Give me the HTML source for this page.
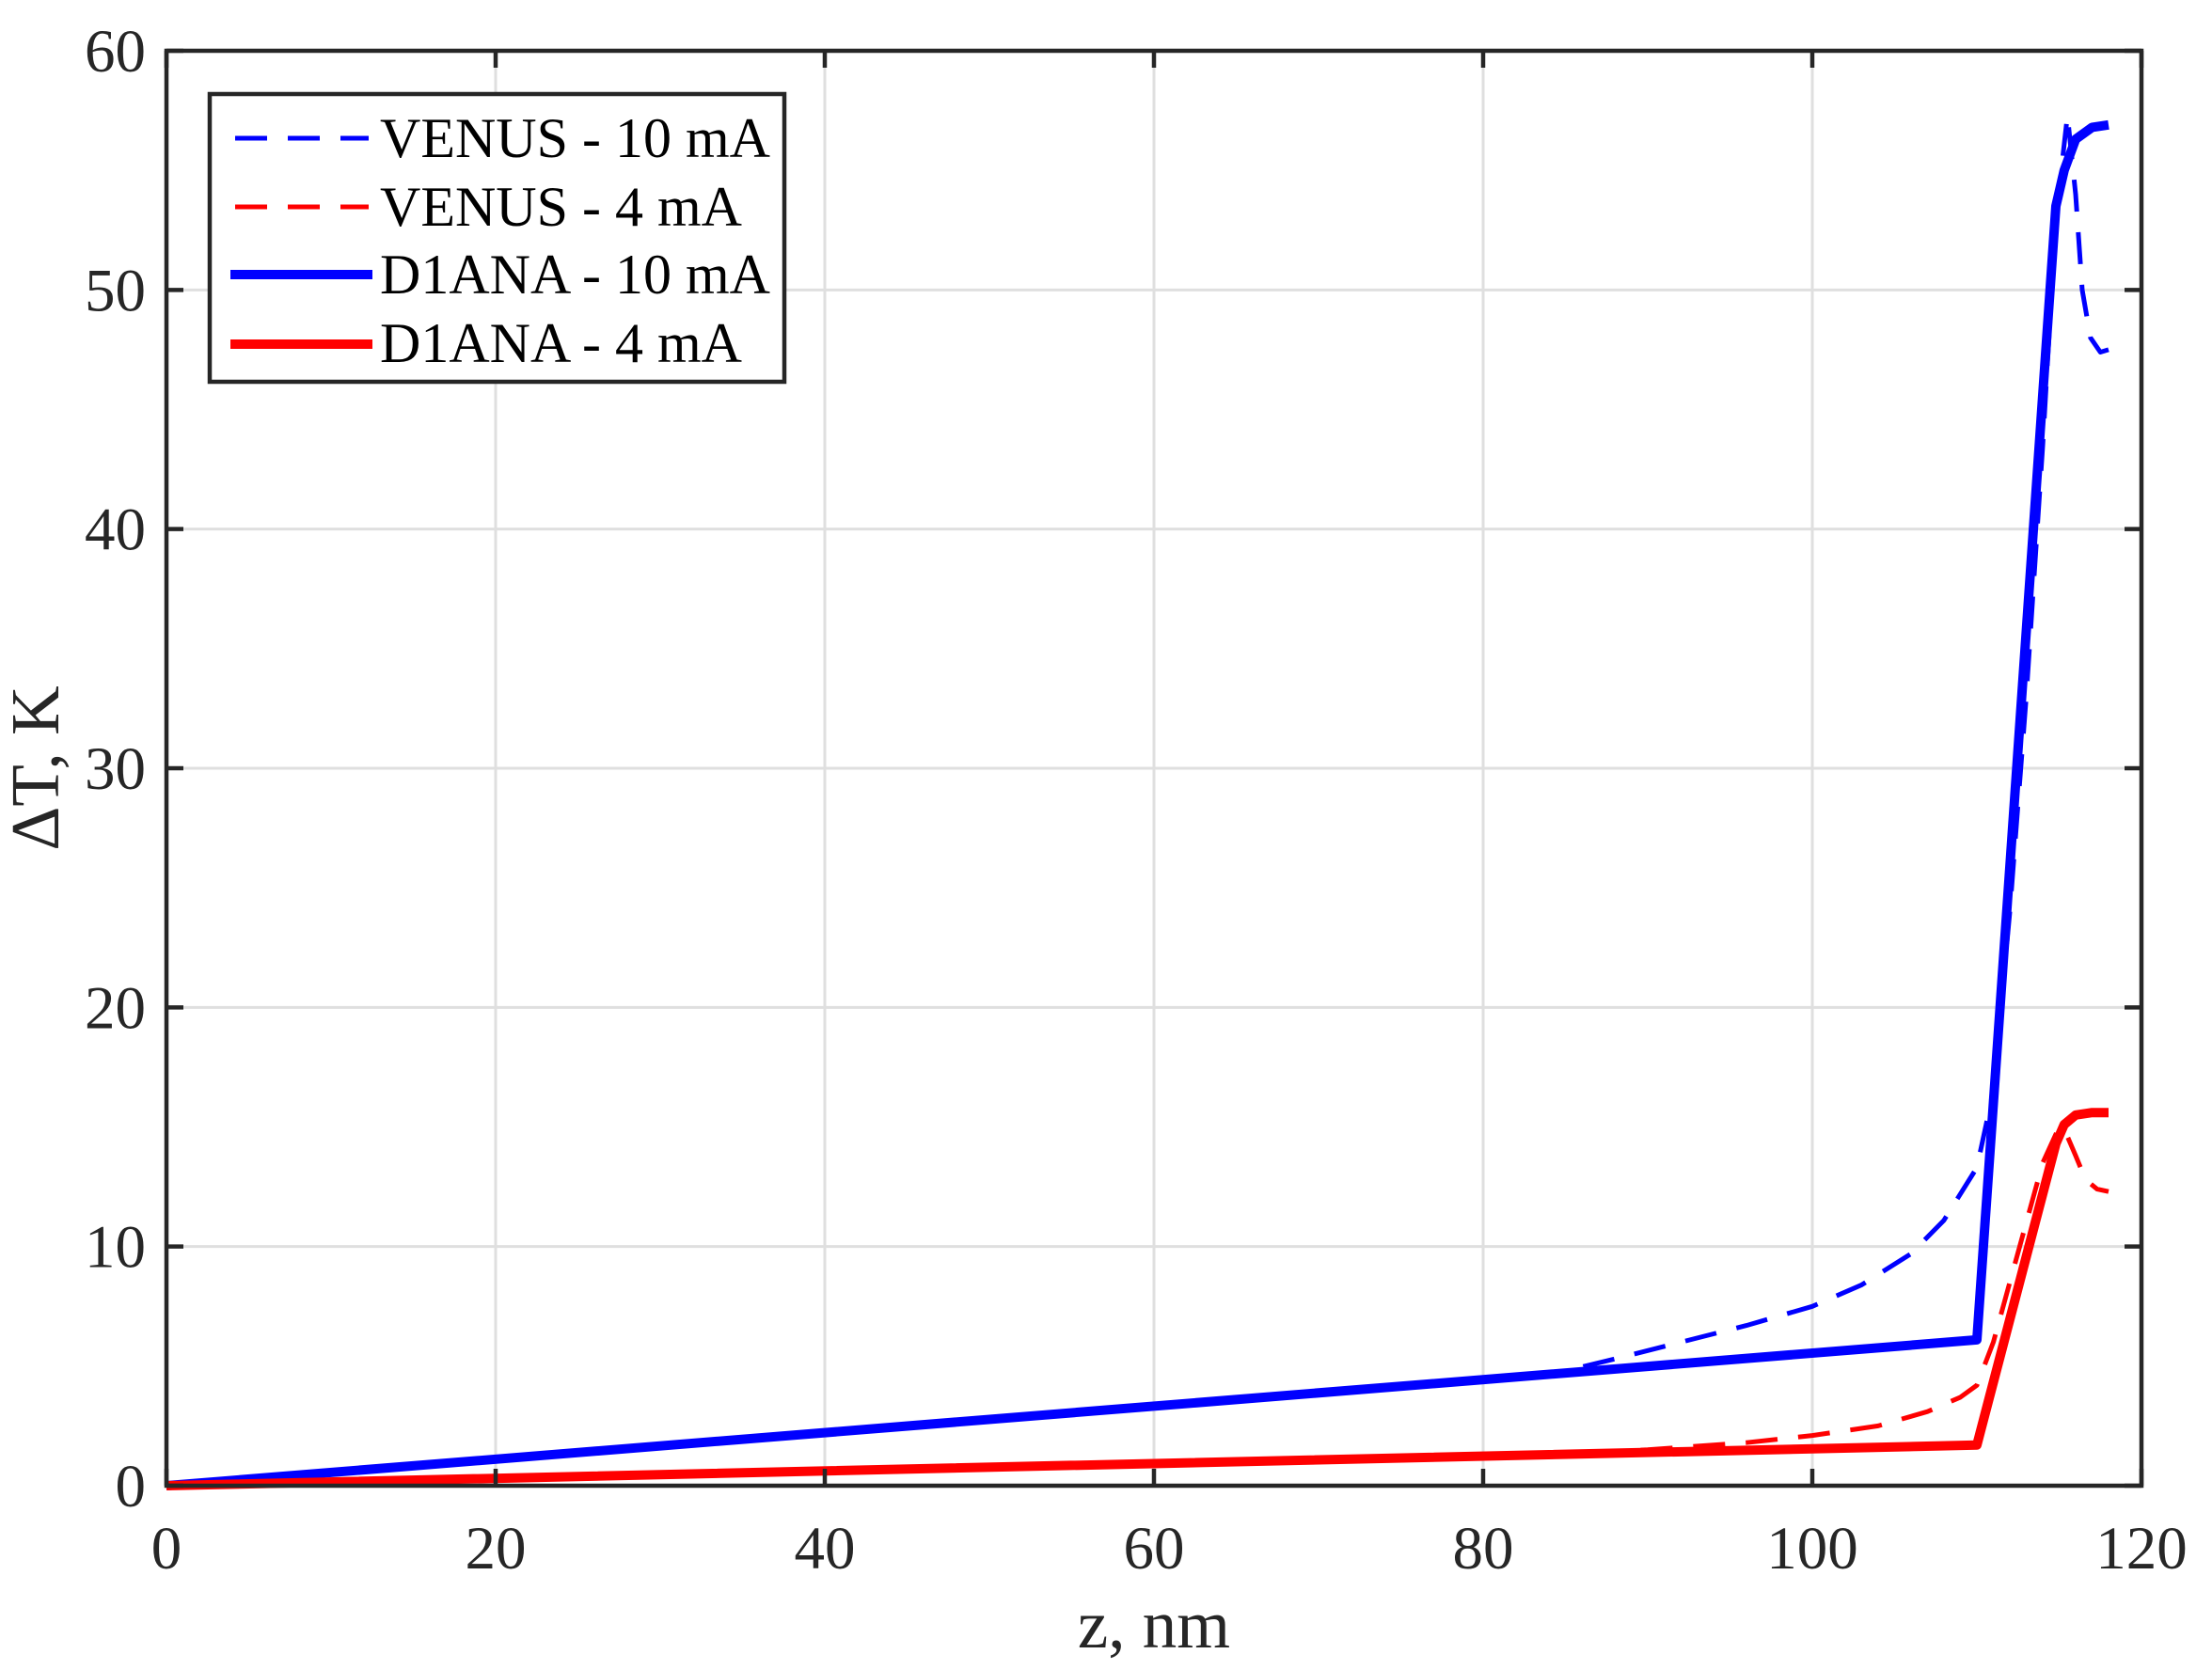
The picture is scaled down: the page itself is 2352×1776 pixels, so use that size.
<!DOCTYPE html>
<html><head><meta charset="utf-8"><style>
html,body{margin:0;padding:0;background:#fff;}
svg{display:block;font-family:"Liberation Serif",serif;}
</style></head><body>
<svg id="s" width="2352" height="1776" viewBox="0 0 2352 1776" xmlns="http://www.w3.org/2000/svg">
<rect width="2352" height="1776" fill="#fff"/>
<g id="grid" stroke="#dfdfdf" stroke-width="3"></g>
<g id="data" fill="none" stroke-linejoin="round"></g>
<g id="ticks" stroke="#262626" stroke-width="4.5"></g>
<rect x="177" y="54" width="2100" height="1526" fill="none" stroke="#262626" stroke-width="4.5"/>
<g id="labels" fill="#262626" font-size="65"></g>
<text x="1227" y="1752" text-anchor="middle" font-size="73" fill="#262626">z, nm</text>
<text transform="translate(62,817) rotate(-90)" text-anchor="middle" font-size="73" fill="#262626">ΔT, K</text>
<g>
<rect x="223" y="100" width="611" height="306" fill="#fff" stroke="#262626" stroke-width="4.5"/>
<line x1="250" y1="147" x2="392" y2="147" stroke="#00f" stroke-width="5" stroke-dasharray="34,22"/>
<line x1="250" y1="220" x2="392" y2="220" stroke="#f00" stroke-width="5" stroke-dasharray="34,22"/>
<line x1="245" y1="292" x2="396" y2="292" stroke="#00f" stroke-width="10"/>
<line x1="245" y1="366" x2="396" y2="366" stroke="#f00" stroke-width="10"/>
<g font-size="60" fill="#000">
<text x="404" y="167">VENUS - 10 mA</text>
<text x="404" y="240">VENUS - 4 mA</text>
<text x="404" y="312">D1ANA - 10 mA</text>
<text x="404" y="385">D1ANA - 4 mA</text>
</g>
</g>
</svg>
<script>
var L=177,R=2277,T=54,B=1580;
function X(v){return L+v*(R-L)/120;}
function Y(v){return B-v*(B-T)/60;}
var ns="http://www.w3.org/2000/svg";
function el(p,n,a,t){var e=document.createElementNS(ns,n);for(var k in a)e.setAttribute(k,a[k]);if(t!==undefined)e.textContent=t;document.getElementById(p).appendChild(e);}
for(var i=1;i<6;i++){el("grid","line",{x1:X(i*20),y1:T,x2:X(i*20),y2:B});}
for(var i=1;i<6;i++){el("grid","line",{x1:L,y1:Y(i*10),x2:R,y2:Y(i*10)});}
for(var i=0;i<=6;i++){var x=X(i*20);el("ticks","line",{x1:x,y1:B,x2:x,y2:B-18});el("ticks","line",{x1:x,y1:T,x2:x,y2:T+18});
el("labels","text",{x:x,y:1668,"text-anchor":"middle"},String(i*20));}
for(var i=0;i<=6;i++){var y=Y(i*10);el("ticks","line",{x1:L,y1:y,x2:L+18,y2:y});el("ticks","line",{x1:R,y1:y,x2:R-18,y2:y});
el("labels","text",{x:155,y:y+22,"text-anchor":"end"},String(i*10));}
function path(pts,c,w,d){var s="M"+pts.map(function(p){return X(p[0]).toFixed(1)+","+Y(p[1]).toFixed(1);}).join(" L");
var a={d:s,stroke:c,"stroke-width":w};if(d)a["stroke-dasharray"]=d;el("data","path",a);}
path([[0,0],[20,1.1],[40,2.2],[60,3.3],[80,4.4],[85,4.8],[88,5.3],[92,6],[96,6.7],[100,7.5],[103,8.4],[106,9.7],[108,11.1],[110,13.3],[111,16.5],[112,24],[113,33],[114,43.5],[114.8,53],[115.5,57.3],[116,54],[116.4,50],[116.9,48],[117.5,47.4],[118,47.5]],"#00f",5,"34,22");
path([[0,0],[40,0.6],[80,1.2],[90,1.5],[96,1.8],[100,2.1],[104,2.5],[107,3.1],[109,3.7],[110,4.2],[111,6],[112,8.5],[113,11],[114,13.5],[115,15],[115.5,14.6],[116,13.8],[116.6,12.8],[117.3,12.4],[118,12.3]],"#f00",5,"34,22");
path([[0,0],[110,6.1],[114.8,53.5],[115.3,55],[116,56.3],[117,56.8],[118,56.9]],"#00f",10);
path([[0,0],[110,1.7],[114.8,14.3],[115.3,15.1],[116,15.5],[117,15.6],[118,15.6]],"#f00",10);
</script>
</body></html>
